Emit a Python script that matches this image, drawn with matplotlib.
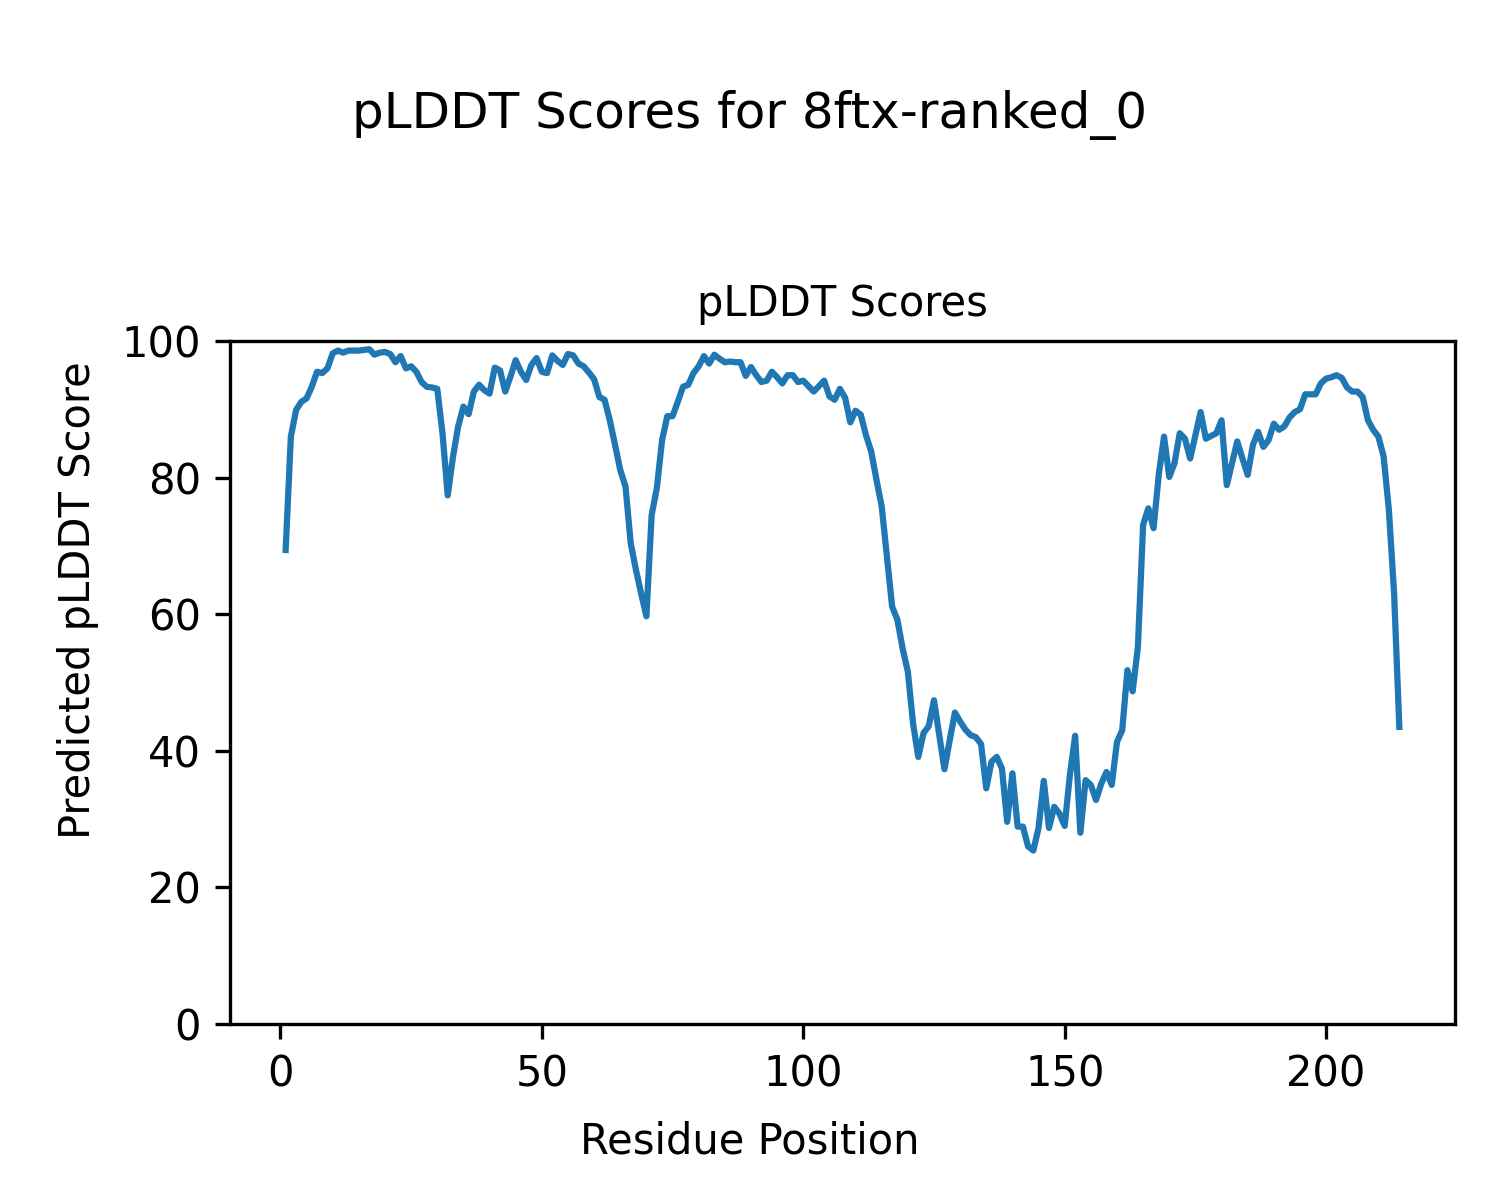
import matplotlib
matplotlib.use("Agg")
import matplotlib.pyplot as plt

residues = list(range(1, 215))
plddt = [
    69.4, 86.0, 89.9, 91.1, 91.6, 93.3, 95.5, 95.3, 96.0, 98.2,
    98.6, 98.3, 98.6, 98.6, 98.6, 98.7, 98.8, 98.0, 98.3, 98.4,
    98.1, 96.9, 97.8, 96.0, 96.3, 95.5, 94.0, 93.3, 93.2, 93.0,
    86.5, 77.4, 83.0, 87.5, 90.4, 89.3, 92.6, 93.6, 92.8, 92.3,
    96.1, 95.7, 92.6, 94.8, 97.2, 95.5, 94.3, 96.5, 97.5, 95.5,
    95.3, 97.9, 97.1, 96.5, 98.1, 97.9, 96.7, 96.3, 95.4, 94.4,
    91.8, 91.4, 88.4, 84.8, 81.1, 78.7, 70.4, 66.5, 63.0, 59.7,
    74.5, 78.5, 85.5, 89.0, 89.0, 91.1, 93.3, 93.6, 95.3, 96.3,
    97.8, 96.7, 98.0, 97.4, 96.9, 97.0, 96.9, 96.9, 94.9, 96.2,
    95.0, 94.0, 94.2, 95.5, 94.7, 93.8, 95.0, 95.0, 94.0, 94.2,
    93.4, 92.6, 93.4, 94.2, 91.9, 91.4, 93.0, 91.7, 88.1, 89.8,
    89.2, 86.2, 83.8, 79.7, 75.8, 68.5, 61.1, 59.2, 55.0, 51.6,
    44.0, 39.1, 42.6, 43.6, 47.4, 42.4, 37.3, 41.5, 45.6, 44.3,
    43.1, 42.3, 42.0, 41.0, 34.5, 38.4, 39.1, 37.4, 29.6, 36.7,
    28.9, 28.9, 26.0, 25.4, 28.7, 35.6, 28.7, 31.8, 30.8, 29.0,
    36.5, 42.2, 28.0, 35.7, 35.0, 32.8, 35.2, 36.9, 35.0, 41.3,
    43.0, 51.8, 48.7, 55.2, 73.1, 75.5, 72.6, 80.5, 86.0, 80.1,
    82.1, 86.5, 85.7, 82.8, 86.2, 89.6, 85.7, 86.1, 86.5, 88.4,
    78.9, 82.1, 85.3, 82.8, 80.4, 84.8, 86.7, 84.5, 85.5, 87.9,
    87.0, 87.5, 88.8, 89.6, 90.0, 92.2, 92.2, 92.2, 93.8, 94.5,
    94.7, 95.0, 94.6, 93.2, 92.6, 92.6, 91.8, 88.4, 87.0, 86.0,
    83.1, 75.3, 63.1, 43.5,
]

fig = plt.figure(figsize=(5, 4), dpi=300)
ax = fig.add_axes([0.1533, 0.1467, 0.8167, 0.5691])
ax.plot(residues, plddt, color="#1f77b4", linewidth=1.5)
ax.set_ylim(0, 100)
ax.set_title("pLDDT Scores", fontsize=10)
fig.supxlabel("Residue Position", fontsize=10, x=0.5, y=0.049, va="center")
fig.supylabel("Predicted pLDDT Score", fontsize=10, x=0.052, y=0.5, ha="center", va="center")
fig.suptitle("pLDDT Scores for 8ftx-ranked_0", fontsize=12, y=0.925, va="top")
fig.savefig("out.png", dpi=300)
